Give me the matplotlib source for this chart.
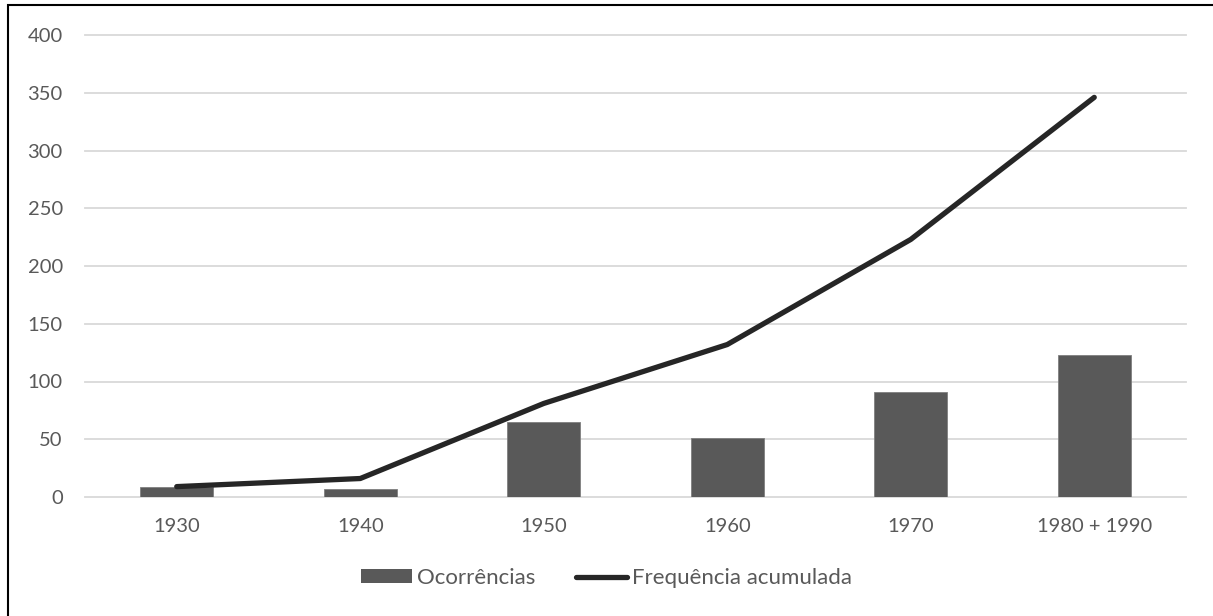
import numpy as np
import matplotlib.pyplot as plt
from matplotlib.patches import Rectangle
from matplotlib.lines import Line2D

# Daten
categories = ['1930', '1940', '1950', '1960', '1970', '1980 + 1990']
ocorrencias = [9, 7, 65, 51, 91, 123]
frequencia_acumulada = [9, 16, 81, 132, 223, 346]
y_ticks = [0, 50, 100, 150, 200, 250, 300, 350, 400]

plt.rcParams['font.family'] = ['Lato', 'DejaVu Sans']
text_color = '#595959'
grid_color = '#d9d9d9'
fs = 14.5

fig = plt.figure(figsize=(12.13, 6.16), dpi=100)
ax = fig.add_axes([85/1213, 1 - 497/616, (1186 - 85)/1213, (497 - 35)/616])

x = np.arange(len(categories))
ax.bar(x, ocorrencias, width=0.4, color='#595959', edgecolor='#7f7f7f',
       linewidth=0.6, zorder=3, label='Ocorrências')
ax.plot(x, frequencia_acumulada, color='#262626', linewidth=3.8,
        solid_capstyle='round', solid_joinstyle='round', zorder=4,
        label='Frequência acumulada')

ax.set_xlim(-0.5, len(categories) - 0.5)
ax.set_ylim(0, 400)
ax.set_yticks(y_ticks)
ax.set_xticks(x)
ax.set_xticklabels(categories)
for yt in y_ticks:
    ax.axhline(yt, color=grid_color, linewidth=1.3, zorder=1, clip_on=False)

for s in ax.spines.values():
    s.set_visible(False)
ax.tick_params(axis='both', length=0, labelsize=fs, colors=text_color)
ax.tick_params(axis='y', pad=16)
ax.tick_params(axis='x', pad=15)

handles = [Rectangle((0, 0), 1, 1, facecolor='#595959'),
           Line2D([0], [0], color='#262626', linewidth=3.8, solid_capstyle='round')]
leg = fig.legend(handles, ['Ocorrências', 'Frequência acumulada'],
                 loc='center', bbox_to_anchor=(0.5, 1 - 578/616), ncol=2,
                 frameon=False, fontsize=16, handlelength=2.3, handleheight=0.6,
                 handletextpad=0.25, columnspacing=1.8)
for t in leg.get_texts():
    t.set_color(text_color)

# Rahmen um das Diagramm
fig.patches.append(Rectangle((8/1213, -0.05), 1.2, 1 - 5/616 + 0.05,
                             transform=fig.transFigure, fill=False,
                             edgecolor='black', linewidth=1.5, clip_on=False))

fig.savefig('out.png', dpi=100)
